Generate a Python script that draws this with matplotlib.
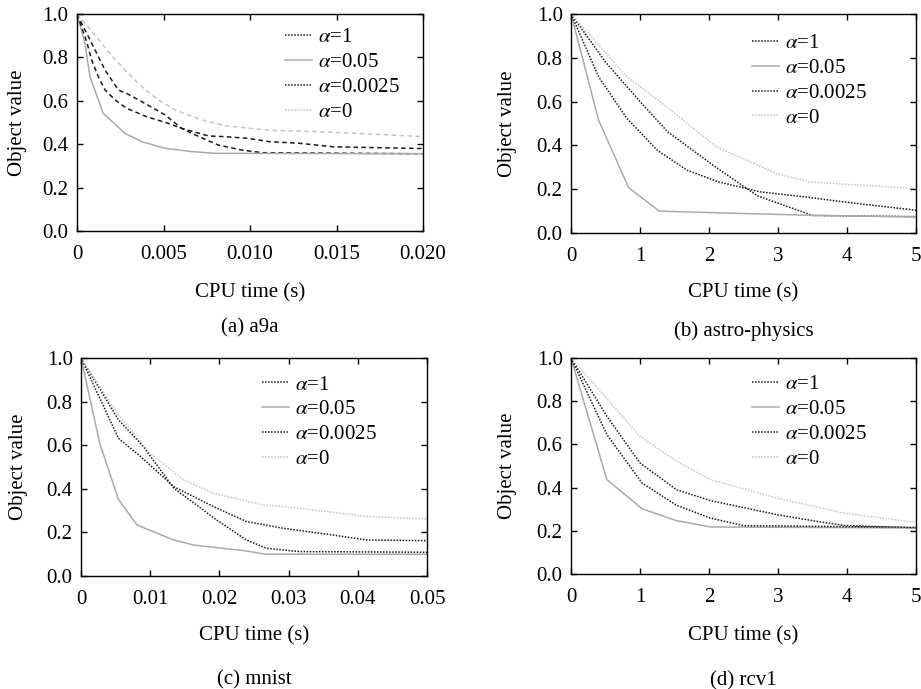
import matplotlib
matplotlib.use('Agg')
import matplotlib.pyplot as plt

plt.rcParams['font.family'] = 'Liberation Serif'
plt.rcParams['mathtext.fontset'] = 'stix'
plt.rcParams['font.size'] = 15

# ---- data ----
# (a) a9a
a_x1 = [0, 0.00114, 0.00162, 0.002, 0.00239, 0.00287, 0.00393, 0.00509, 0.00605, 0.00663,
        0.00817, 0.00952, 0.0107, 0.02]
a_y1 = [1.0, 0.819, 0.742, 0.696, 0.65, 0.634, 0.588, 0.535, 0.473, 0.45,
        0.396, 0.373, 0.361, 0.356]
a_x2 = [0, 0.00056, 0.00085, 0.00123, 0.00162, 0.0022, 0.00287, 0.00402, 0.00528, 0.00605,
        0.0076, 0.0085, 0.0099, 0.0111, 0.0129, 0.0148, 0.02]
a_y2 = [1.0, 0.872, 0.788, 0.711, 0.65, 0.604, 0.565, 0.527, 0.496, 0.473,
        0.438, 0.435, 0.427, 0.412, 0.404, 0.388, 0.38]
a_x3 = [0, 0.00046, 0.00075, 0.00152, 0.00277, 0.00374, 0.00509, 0.00663, 0.008, 0.02]
a_y3 = [1.0, 0.865, 0.711, 0.542, 0.45, 0.412, 0.381, 0.366, 0.358, 0.356]
a_x4 = [0, 0.00104, 0.00181, 0.00277, 0.00374, 0.0047, 0.00566, 0.0072, 0.0086, 0.011,
        0.0148, 0.02]
a_y4 = [1.0, 0.903, 0.826, 0.742, 0.665, 0.604, 0.558, 0.512, 0.485, 0.465,
        0.455, 0.435]

# (b) astro-physics
b_x1 = [0, 0.5, 1.0, 1.4, 2.1, 2.7, 3.5, 5]
b_y1 = [1.0, 0.78, 0.6, 0.462, 0.3, 0.17, 0.08, 0.075]
b_x2 = [0, 0.4, 0.81, 1.25, 1.68, 2.14, 2.74, 3.47, 3.95, 5]
b_y2 = [1.0, 0.713, 0.523, 0.378, 0.287, 0.233, 0.188, 0.162, 0.142, 0.104]
b_x3 = [0, 0.4, 0.835, 1.28, 2.26, 3.47, 5]
b_y3 = [1.0, 0.515, 0.207, 0.10, 0.091, 0.081, 0.073]
b_x4 = [0, 0.81, 1.29, 2.11, 2.98, 3.47, 3.95, 5]
b_y4 = [1.0, 0.713, 0.6, 0.393, 0.271, 0.233, 0.223, 0.203]

# (c) mnist
c_x1 = [0, 0.0054, 0.009, 0.0134, 0.0196, 0.0239, 0.0268, 0.0316, 0.05]
c_y1 = [1.0, 0.717, 0.594, 0.403, 0.257, 0.165, 0.127, 0.112, 0.109]
c_x2 = [0, 0.0054, 0.0086, 0.0134, 0.0191, 0.0239, 0.0292, 0.0364, 0.0413, 0.05]
c_y2 = [1.0, 0.632, 0.548, 0.41, 0.319, 0.25, 0.219, 0.188, 0.165, 0.162]
c_x3 = [0, 0.0027, 0.0054, 0.0081, 0.0134, 0.0163, 0.0239, 0.0266, 0.05]
c_y3 = [1.0, 0.609, 0.352, 0.234, 0.165, 0.142, 0.115, 0.1, 0.1]
c_x4 = [0, 0.0054, 0.01, 0.0148, 0.0191, 0.0263, 0.0316, 0.0413, 0.05]
c_y4 = [1.0, 0.74, 0.563, 0.441, 0.38, 0.326, 0.311, 0.273, 0.262]

# (d) rcv1
d_x1 = [0, 0.52, 1.0, 1.53, 2.02, 2.98, 3.56, 3.95, 5]
d_y1 = [1.0, 0.73, 0.514, 0.39, 0.34, 0.275, 0.244, 0.225, 0.213]
d_x2 = [0, 0.52, 1.03, 1.53, 2.02, 2.5, 5]
d_y2 = [1.0, 0.645, 0.421, 0.318, 0.259, 0.224, 0.216]
d_x3 = [0, 0.52, 1.03, 1.53, 2.02, 5]
d_y3 = [1.0, 0.437, 0.302, 0.247, 0.218, 0.213]
d_x4 = [0, 1.0, 1.53, 2.02, 2.98, 3.95, 5]
d_y4 = [1.0, 0.637, 0.522, 0.437, 0.352, 0.282, 0.239]

labels = [r'$\alpha$=1', r'$\alpha$=0.05', r'$\alpha$=0.0025', r'$\alpha$=0']
titles = ['(a) a9a', '(b) astro-physics', '(c) mnist', '(d) rcv1']

a_ticks = [0, 0.005, 0.010, 0.015, 0.020]
a_ticklabels = ['0', '0.005', '0.010', '0.015', '0.020']
b_ticks = [0, 1, 2, 3, 4, 5]
b_ticklabels = ['0', '1', '2', '3', '4', '5']
c_ticks = [0, 0.01, 0.02, 0.03, 0.04, 0.05]
c_ticklabels = ['0', '0.01', '0.02', '0.03', '0.04', '0.05']
y_ticks = [0, 0.2, 0.4, 0.6, 0.8, 1.0]
y_ticklabels = ['0.0', '0.2', '0.4', '0.6', '0.8', '1.0']

# series order in each panel: alpha=1, alpha=0.05, alpha=0.0025, alpha=0
order_x = [
    [a_x1, a_x3, a_x2, a_x4],
    [b_x1, b_x3, b_x2, b_x4],
    [c_x1, c_x3, c_x2, c_x4],
    [d_x1, d_x3, d_x2, d_x4],
]
order_y = [
    [a_y1, a_y3, a_y2, a_y4],
    [b_y1, b_y3, b_y2, b_y4],
    [c_y1, c_y3, c_y2, c_y4],
    [d_y1, d_y3, d_y2, d_y4],
]
xticks = [(a_ticks, a_ticklabels, 0.02), (b_ticks, b_ticklabels, 5),
          (c_ticks, c_ticklabels, 0.05), (b_ticks, b_ticklabels, 5)]


def line_styles(dash):
    return [dict(color='#1a1a1a', ls=dash, lw=1.1),
            dict(color='#aaaaaa', ls='-', lw=1.1),
            dict(color='#1a1a1a', ls=dash, lw=1.1),
            dict(color='#c4c4c4', ls=dash, lw=1.1)]


dot = (0, (1, 1))
dash = (0, (3, 2.2))
panel_styles = [line_styles(dash), line_styles(dot), line_styles(dot), line_styles(dot)]
legend_styles = line_styles(dot)

rects = [[0.0836, 0.6647, 0.3757, 0.315],
         [0.620, 0.6618, 0.3746, 0.318],
         [0.088, 0.164, 0.3757, 0.3164],
         [0.620, 0.1669, 0.3746, 0.3135]]
ylab_x = [-0.173, -0.183, -0.182, -0.183]
xlab_y = [-0.286, -0.274, -0.275, -0.287]
title_y = [-0.447, -0.448, -0.477, -0.494]
leg_anchor = [(0.934, 0.936), (0.858, 0.91), (0.855, 0.922), (0.858, 0.922)]

fig = plt.figure(figsize=(9.21, 6.89), dpi=100)

for i in range(4):
    ax = fig.add_axes(rects[i])
    for xs, ys, st in zip(order_x[i], order_y[i], panel_styles[i]):
        ax.plot(xs, ys, **st)
    # legend handles drawn dotted, as in the reference
    handles = [plt.Line2D([], [], **st) for st in legend_styles]
    ticks, ticklabels, xmax = xticks[i]
    ax.set_xlim(0, xmax)
    ax.set_ylim(0, 1.0)
    ax.set_xticks(ticks)
    ax.set_xticklabels(ticklabels)
    ax.set_yticks(y_ticks)
    ax.set_yticklabels(y_ticklabels)
    ax.tick_params(axis='both', direction='in', top=True, right=True, length=4, width=1,
                   labelsize=15)
    ax.tick_params(axis='x', pad=10)
    ax.tick_params(axis='y', pad=6)
    for sp in ax.spines.values():
        sp.set_linewidth(1.0)
    ax.text(ylab_x[i], 0.5, 'Object value', rotation=90, ha='center', va='center',
            transform=ax.transAxes, fontsize=15)
    ax.text(0.5, xlab_y[i], 'CPU time (s)', ha='center', va='center',
            transform=ax.transAxes, fontsize=15)
    ax.text(0.5, title_y[i], titles[i], ha='center', va='center',
            transform=ax.transAxes, fontsize=15)
    ax.legend(handles, labels, loc='upper right', bbox_to_anchor=leg_anchor[i], frameon=False,
              fontsize=15, handlelength=1.3, handletextpad=0.3, labelspacing=0.25,
              borderaxespad=0, borderpad=0)

fig.savefig('out.png', dpi=100)
